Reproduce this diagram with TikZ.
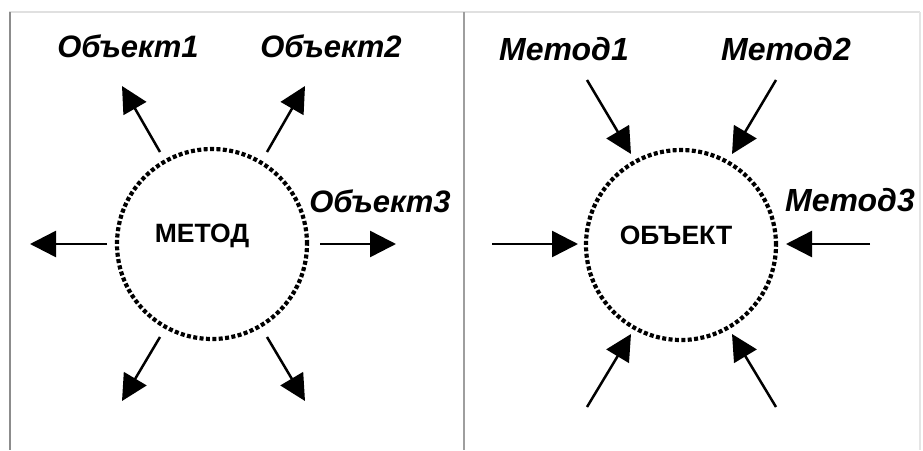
\documentclass[tikz,border=0pt]{standalone}
\usepackage{fontspec}
\setmainfont{Liberation Sans}
\usetikzlibrary{arrows.meta}
\begin{document}
\begin{tikzpicture}[x=1pt,y=-1pt,
  ring/.style={circle,draw,line width=4.2pt,dash pattern=on 4pt off 2.4pt,minimum size=190pt,inner sep=0pt},
  arr/.style={line width=2.5pt,-{Triangle[length=26pt,width=26pt]}},
  lab/.style={font=\fontsize{31}{33}\selectfont\bfseries\itshape,inner sep=0pt},
  mlab/.style={font=\fontsize{32}{34}\selectfont\bfseries\itshape,inner sep=0pt},
  ctr/.style={font=\fontsize{26.5}{28}\selectfont\bfseries,inner sep=0pt}]
\useasboundingbox (0,0) rectangle (923,450);
% frames
\draw[color=black!12,line width=1.5pt] (9,12) -- (920,12);
\draw[color=black!45,line width=2pt] (10,12) -- (10,450);
\draw[color=black!38,line width=2pt] (464,12) -- (464,450);
\draw[color=black!10,line width=1.5pt] (920,12) -- (920,450);
% left panel
\node[ring] (m) at (212,244) {};
\node[ctr] (mt) at (202,236) {МЕТОД};
\coordinate (a1s) at (160,152); \coordinate (a1e) at (122,86);
\coordinate (a2s) at (267,152); \coordinate (a2e) at (305,86);
\coordinate (a3s) at (107,244); \coordinate (a3e) at (30,244);
\coordinate (a4s) at (320,244); \coordinate (a4e) at (396,244);
\coordinate (a5s) at (160,337); \coordinate (a5e) at (122,401);
\coordinate (a6s) at (267,337); \coordinate (a6e) at (305,401);
\foreach \i in {1,...,6} \draw[arr] (a\i s) -- (a\i e);
\node[lab] (o1) at (128,46) {Объект1};
\node[lab] (o2) at (331,46) {Объект2};
\node[lab] (o3) at (380,201) {Объект3};
% right panel
\node[ring] (o) at (681,245) {};
\node[ctr] (ot) at (676,235) {ОБЪЕКТ};
\coordinate (b1s) at (587,80); \coordinate (b1e) at (631,154);
\coordinate (b2s) at (776,80); \coordinate (b2e) at (732,154);
\coordinate (b3s) at (492,244); \coordinate (b3e) at (578,244);
\coordinate (b4s) at (870,244); \coordinate (b4e) at (786,244);
\coordinate (b5s) at (587,407); \coordinate (b5e) at (631,334);
\coordinate (b6s) at (776,407); \coordinate (b6e) at (732,334);
\foreach \i in {1,...,6} \draw[arr] (b\i s) -- (b\i e);
\node[mlab] (n1) at (564,49) {Метод1};
\node[mlab] (n2) at (786,49) {Метод2};
\node[mlab] (n3) at (850,200) {Метод3};
\end{tikzpicture}
\end{document}
